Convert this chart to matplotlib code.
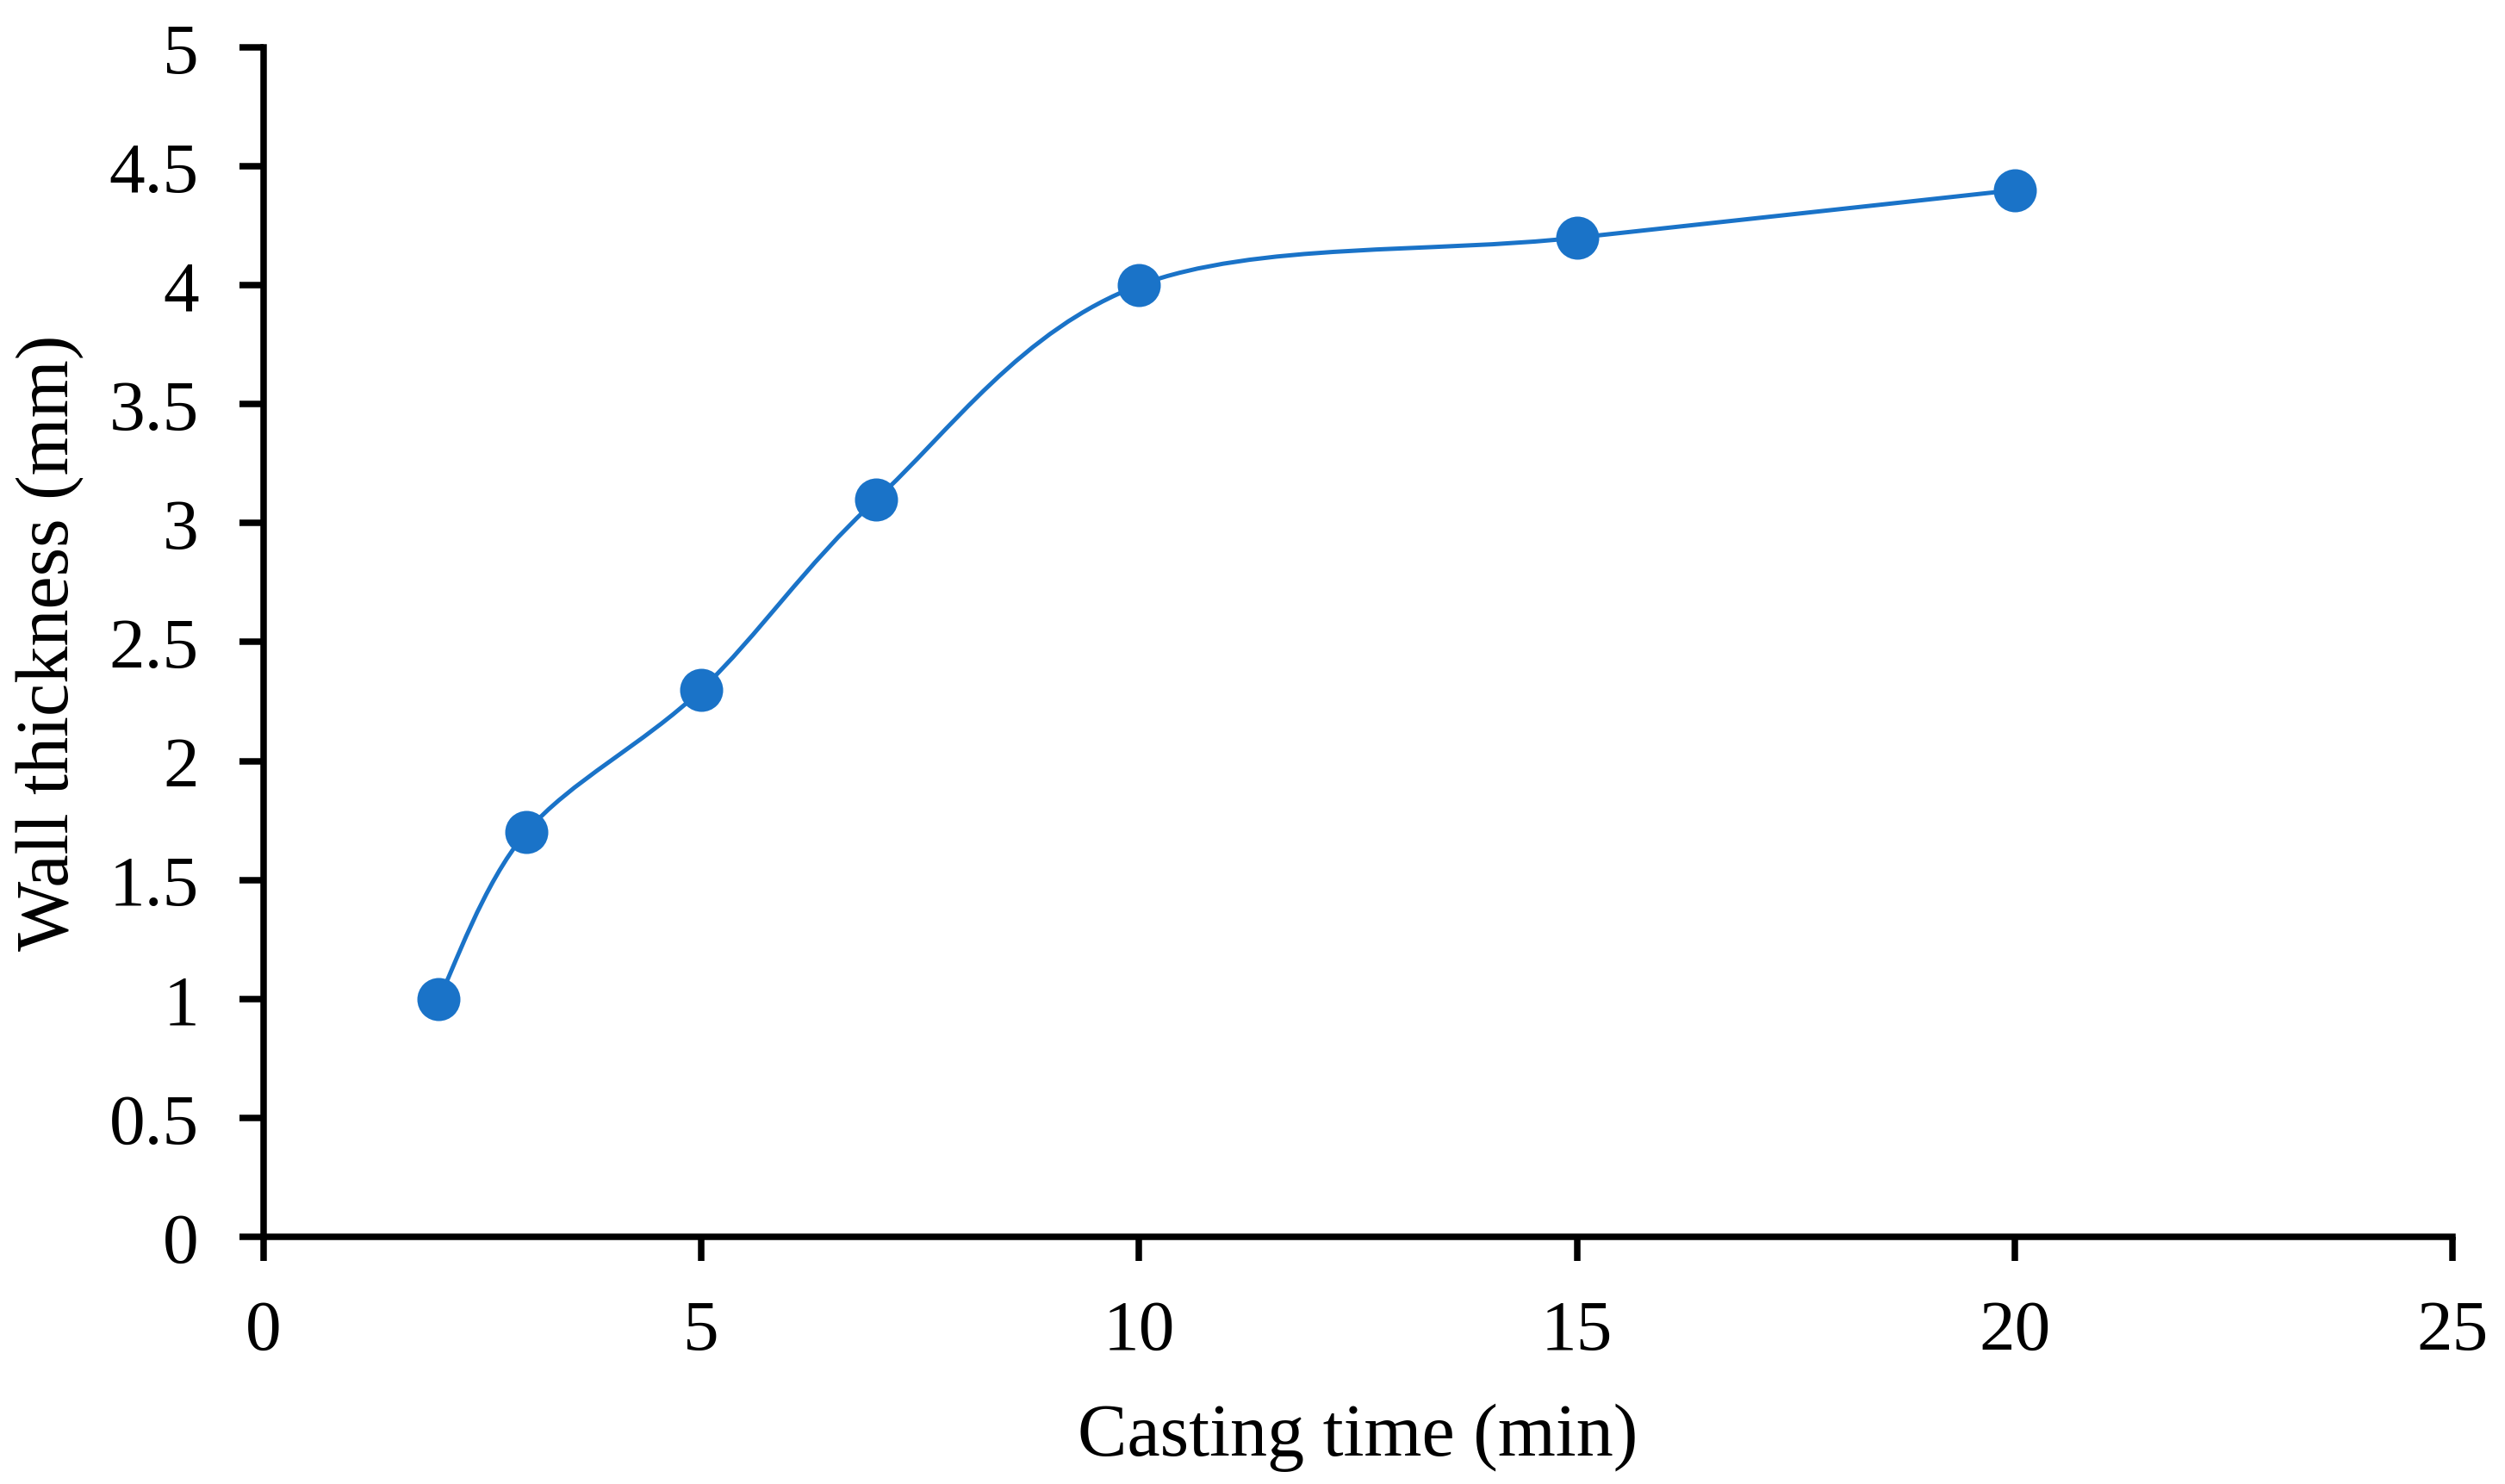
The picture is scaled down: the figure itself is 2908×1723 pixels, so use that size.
import numpy as np
import matplotlib.pyplot as plt
from matplotlib.path import Path
from matplotlib.patches import PathPatch

casting_time = [2, 3, 5, 7, 10, 15, 20]
wall_thickness = [1.0, 1.7, 2.3, 3.1, 4.0, 4.2, 4.4]

x_ticks = [0, 5, 10, 15, 20, 25]
y_ticks = [0, 0.5, 1, 1.5, 2, 2.5, 3, 3.5, 4, 4.5, 5]
y_tick_labels = ['0', '0.5', '1', '1.5', '2', '2.5', '3', '3.5', '4', '4.5', '5']

blue = '#1a73c8'

plt.rcParams['font.family'] = ['Liberation Serif', 'DejaVu Serif']


def smooth_path(xs, ys, t=1 / 6):
    # Excel-like smoothed line: Catmull-Rom segments as cubic Bezier curves
    pts = np.column_stack([xs, ys]).astype(float)
    n = len(pts)
    verts = [pts[0]]
    codes = [Path.MOVETO]
    for i in range(n - 1):
        p0 = pts[max(i - 1, 0)]
        p1 = pts[i]
        p2 = pts[i + 1]
        p3 = pts[min(i + 2, n - 1)]
        c1 = p1 + (p2 - p0) * t
        c2 = p2 - (p3 - p1) * t
        verts += [c1, c2, p2]
        codes += [Path.CURVE4] * 3
    return Path(verts, codes)


fig, ax = plt.subplots(figsize=(14.54, 8.62), dpi=200)
fig.subplots_adjust(left=0.1052, right=0.979, bottom=0.1665, top=0.9675)

# Smoothed connecting line
patch = PathPatch(smooth_path(casting_time, wall_thickness), facecolor='none',
                  edgecolor=blue, linewidth=1.8, transform=ax.transData)
ax.add_patch(patch)

# Data markers
ax.plot(casting_time, wall_thickness, linestyle='none', marker='o',
        markersize=17, color=blue, zorder=3)

ax.set_xlim(0, 25)
ax.set_ylim(0, 5)
ax.set_xticks(x_ticks)
ax.set_yticks(y_ticks)
ax.set_yticklabels(y_tick_labels)

for side in ['top', 'right']:
    ax.spines[side].set_visible(False)
for side in ['left', 'bottom']:
    ax.spines[side].set_linewidth(2.7)
    ax.spines[side].set_color('black')

ax.tick_params(axis='both', direction='out', length=10, width=2.7,
               labelsize=30, colors='black')
ax.tick_params(axis='x', pad=16)
ax.tick_params(axis='y', pad=17)

ax.set_xlabel('Casting time (min)', fontsize=31, labelpad=16)
ax.set_ylabel('Wall thickness (mm)', fontsize=31, labelpad=10)

plt.savefig('out.png', dpi=200)
